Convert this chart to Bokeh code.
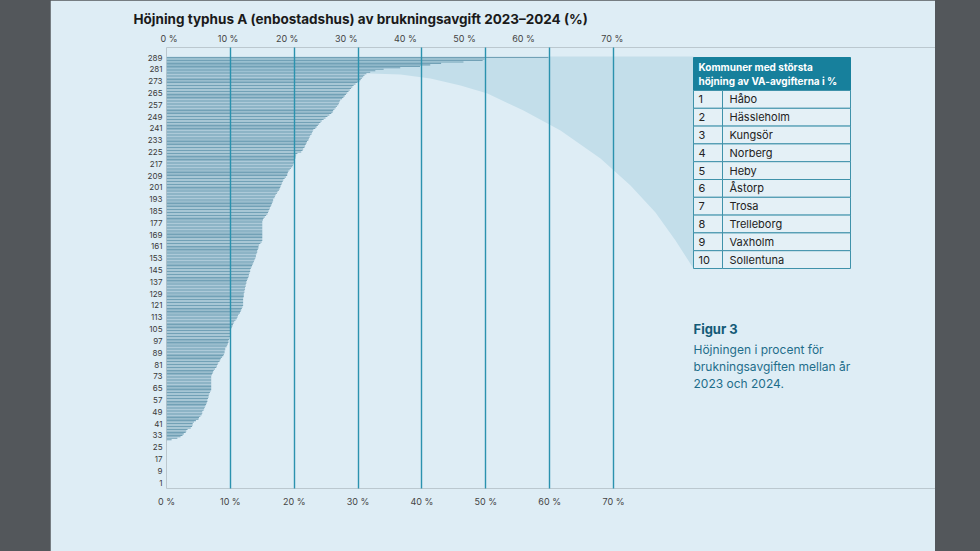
from bokeh.plotting import figure
from bokeh.models import Range1d, FixedTicker, LinearAxis, Spacer
from bokeh.layouts import row
from bokeh.core.properties import value
from bokeh.embed import file_html
from bokeh.resources import INLINE

# ---------------- data ----------------
ranks = list(range(1, 290))
values = [
    0, 0, 0, 0, 0, 0, 0, 0, 0, 0,
    0, 0, 0, 0, 0, 0, 0, 0, 0, 0,
    0, 0, 0, 0, 0, 0, 0, 0, 0, 0.8,
    1.7, 2.2, 2.5, 2.7, 3.0, 3.1, 3.3, 3.8, 4.0, 4.1,
    4.1, 4.3, 4.6, 5.0, 5.1, 5.3, 5.5, 5.6, 5.6, 5.8,
    5.9, 6.0, 6.1, 6.2, 6.3, 6.4, 6.4, 6.5, 6.6, 6.6,
    6.7, 6.8, 6.9, 7.0, 7.0, 7.0, 7.0, 7.0, 7.0, 7.0,
    7.0, 7.0, 7.0, 7.1, 7.2, 7.3, 7.4, 7.6, 7.8, 7.9,
    8.0, 8.1, 8.3, 8.4, 8.5, 8.7, 8.9, 9.0, 9.1, 9.1,
    9.2, 9.2, 9.4, 9.5, 9.6, 9.7, 9.7, 9.8, 9.9, 10.0,
    10.0, 10.1, 10.1, 10.1, 10.1, 10.2, 10.3, 10.4, 10.5, 10.6,
    10.8, 11.0, 11.1, 11.2, 11.3, 11.5, 11.6, 11.7, 11.8, 11.9,
    12.0, 12.0, 12.0, 12.0, 12.0, 12.0, 12.1, 12.1, 12.1, 12.2,
    12.2, 12.3, 12.3, 12.4, 12.4, 12.5, 12.5, 12.6, 12.7, 12.8,
    12.9, 12.9, 13.0, 13.1, 13.1, 13.2, 13.3, 13.4, 13.5, 13.6,
    13.7, 13.8, 13.9, 14.0, 14.0, 14.1, 14.2, 14.2, 14.3, 14.4,
    14.4, 14.5, 14.7, 14.9, 15.0, 15.0, 15.0, 15.0, 15.0, 15.0,
    15.0, 15.0, 15.0, 15.0, 15.0, 15.0, 15.0, 15.0, 15.1, 15.2,
    15.4, 15.6, 15.8, 15.9, 16.0, 16.1, 16.2, 16.3, 16.4, 16.5,
    16.6, 16.7, 16.7, 16.9, 17.0, 17.1, 17.3, 17.4, 17.6, 17.7,
    17.8, 17.9, 18.0, 18.1, 18.2, 18.3, 18.5, 18.7, 18.9, 18.9,
    19.0, 19.1, 19.3, 19.5, 19.7, 19.8, 19.9, 20.0, 20.0, 20.1,
    20.2, 20.2, 20.3, 20.5, 21.1, 21.3, 21.4, 21.6, 21.7, 21.8,
    21.9, 22.0, 22.2, 22.3, 22.4, 22.5, 22.7, 22.8, 22.9, 23.0,
    23.3, 23.5, 23.7, 23.9, 24.1, 24.3, 24.6, 24.9, 25.2, 25.5,
    25.8, 26.0, 26.1, 26.3, 26.5, 26.7, 26.9, 27.0, 27.1, 27.2,
    27.5, 27.7, 27.9, 28.1, 28.3, 28.5, 28.7, 28.9, 29.1, 29.3,
    29.6, 29.9, 30.2, 30.4, 30.6, 30.8, 31.0, 31.3, 31.9, 32.7,
    34.0, 36.6, 39.7, 41.3, 43.0, 46.5, 49.5, 49.8, 59.8,
]
y_ticks = list(range(1, 290, 8))
x_ticks = [0, 10, 20, 30, 40, 50, 60, 70]
x_labels = ["0 %", "10 %", "20 %", "30 %", "40 %", "50 %", "60 %", "70 %"]
top_ticks = [0, 10, 20, 30, 40, 50, 60, 75]   # the top labels sit slightly off-grid in the original
table_nums = ["1", "2", "3", "4", "5", "6", "7", "8", "9", "10"]
table_names = ["Håbo", "Hässleholm", "Kungsör", "Norberg", "Heby",
               "Åstorp", "Trosa", "Trelleborg", "Vaxholm", "Sollentuna"]
table_header = ["Kommuner med största", "höjning av VA-avgifterna i %"]
title_text = "Höjning typhus A (enbostadshus) av brukningsavgift 2023–2024 (%)"
caption_title = "Figur 3"
caption_lines = ["Höjningen i procent för", "brukningsavgiften mellan år", "2023 och 2024."]

# ---------------- layout helpers (page pixels -> data) ----------------
PAGE_X0 = 50          # page x where figure starts
PX_ZERO = 166         # page x of 0 %
PX_PER = 6.386        # px per percent
PY_TOP = 57           # page y of rank 289
PY_PER = 1.476        # px per rank
FIG_W, FIG_H = 885, 551
FRAME_TOP, FRAME_BOT = 47, 488


def dx(px):
    return (px - PX_ZERO) / PX_PER


def dy(py):
    return 289 - (py - PY_TOP) / PY_PER


BG = "#deedf5"
DARK = "#53575b"
GRID = "#2b92ae"
BAR = "#72a1b6"
TEAL = "#17809c"
FONT = "Inter"

p = figure(width=FIG_W, height=FIG_H, output_backend="svg", toolbar_location=None,
           x_range=Range1d(dx(PX_ZERO), dx(PAGE_X0 + FIG_W)),
           y_range=Range1d(dy(FRAME_BOT), dy(FRAME_TOP)),
           min_border_left=PX_ZERO - PAGE_X0, min_border_right=0,
           min_border_top=FRAME_TOP, min_border_bottom=FIG_H - FRAME_BOT)
p.background_fill_color = BG
p.border_fill_color = BG
p.outline_line_color = None

p.title.text = title_text
p.title.align = "left"
p.title.offset = 133 - PX_ZERO
p.title.text_font = FONT
p.title.text_font_style = "bold"
p.title.text_font_size = "13.5px"
p.title.text_color = "#1a1a1a"
p.title.standoff = 6

# top scale (labels offset like the original)
p.extra_x_ranges = {"top": Range1d((PX_ZERO - 168.5) / 5.91, (PAGE_X0 + FIG_W - 168.5) / 5.91)}

# bottom axis
xa = p.xaxis[0]
xa.ticker = FixedTicker(ticks=x_ticks)
xa.major_label_overrides = {t: l for t, l in zip(x_ticks, x_labels)}
xa.axis_line_color = None
xa.major_tick_line_color = None
xa.minor_tick_line_color = None
xa.major_tick_out = 0
xa.major_tick_in = 0
xa.major_label_standoff = 7
xa.major_label_text_font = FONT
xa.major_label_text_font_size = "9px"
xa.major_label_text_color = "#444444"

ta = LinearAxis(x_range_name="top", ticker=FixedTicker(ticks=top_ticks),
                major_label_overrides={t: l for t, l in zip(top_ticks, x_labels)},
                axis_line_color=None, major_tick_line_color=None, minor_tick_line_color=None,
                major_tick_out=0, major_tick_in=0,
                major_label_standoff=4, major_label_text_font=FONT,
                major_label_text_font_size="9px", major_label_text_color="#444444")
p.add_layout(ta, "above")

ya = p.yaxis[0]
ya.ticker = FixedTicker(ticks=y_ticks)
ya.axis_line_color = None
ya.major_tick_line_color = None
ya.minor_tick_line_color = None
ya.major_tick_out = 0
ya.major_tick_in = 0
ya.major_label_standoff = 4
ya.major_label_text_font = FONT
ya.major_label_text_font_size = "8px"
ya.major_label_text_color = "#3a3a3a"

p.ygrid.visible = False
p.xgrid.grid_line_color = GRID
p.xgrid.grid_line_width = 1.4
p.xgrid.level = "overlay"

# funnel from top bars to the table
funnel_px = [(PX_ZERO, 56), (693, 56), (693, 268), (675, 240), (655, 212), (630, 185),
             (600, 158), (560, 130), (523, 110), (487, 93), (460, 85), (430, 78),
             (400, 74), (370, 73), (PX_ZERO, 73)]
p.patch([dx(a) for a, b in funnel_px], [dy(b) for a, b in funnel_px],
        fill_color="#c3deea", line_color=None)

# bars
p.hbar(y=ranks, left=0, right=values, height=0.72, fill_color=BAR, line_color=None)

# table
TX0, TX1, TXN = 693, 850, 722
TY0, TYH = 57, 90
ROW_H = 17.8
n = len(table_names)
p.quad(left=[dx(TX0)], right=[dx(TX1)], top=[dy(TY0)], bottom=[dy(TYH)],
       fill_color=TEAL, line_color=TEAL)
row_tops = [dy(TYH + i * ROW_H) for i in range(n)]
row_bots = [dy(TYH + (i + 1) * ROW_H) for i in range(n)]
p.quad(left=[dx(TX0)] * n, right=[dx(TXN)] * n, top=row_tops, bottom=row_bots,
       fill_color="#e4f0f6", line_color="#3f92aa", line_width=1)
p.quad(left=[dx(TXN)] * n, right=[dx(TX1)] * n, top=row_tops, bottom=row_bots,
       fill_color="#e4f0f6", line_color="#3f92aa", line_width=1)
p.text(x=[dx(698)] * 2, y=[dy(66), dy(80.5)], text=table_header,
       text_font=value(FONT), text_font_style="bold", text_font_size="10px",
       text_color="white", text_baseline="middle")
row_mid = [dy(TYH + (i + 0.5) * ROW_H) for i in range(n)]
p.text(x=[dx(698)] * n, y=row_mid, text=table_nums,
       text_font=value(FONT), text_font_size="11px", text_color="#222222",
       text_baseline="middle")
p.text(x=[dx(729)] * n, y=row_mid, text=table_names,
       text_font=value(FONT), text_font_size="11px", text_color="#222222",
       text_baseline="middle")

# caption
p.text(x=[dx(693)], y=[dy(328)], text=[caption_title], text_font=value(FONT),
       text_font_style="bold", text_font_size="13px", text_color="#135a77",
       text_baseline="middle")
p.text(x=[dx(693)] * 3, y=[dy(349), dy(366), dy(382.5)], text=caption_lines,
       text_font=value(FONT), text_font_size="12px", text_color="#1f6d8b",
       text_baseline="middle")

layout = row(Spacer(width=PAGE_X0, height=FIG_H), p)
html = file_html(layout, INLINE)
html = html.replace("<body>", '<body style="background-color:%s;">' % DARK)
open("out.html", "w").write(html)
